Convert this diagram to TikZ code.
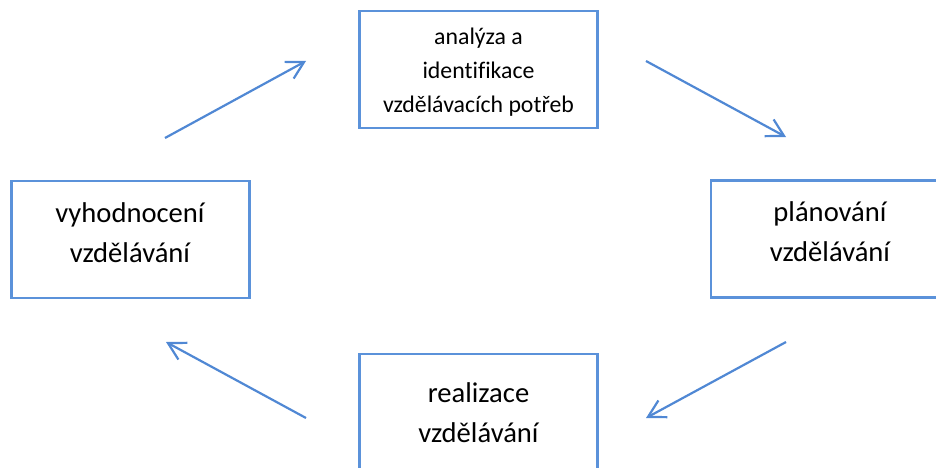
\documentclass[tikz,border=0pt]{standalone}
\usepackage{fontspec}
\setmainfont{Carlito}[Ligatures=NoCommon]
\usetikzlibrary{arrows.meta}
\definecolor{boxblue}{RGB}{91,146,218}
\definecolor{arrblue}{RGB}{80,136,212}
\tikzset{
  box/.style={draw=boxblue, line width=2.2pt, minimum width=238pt, minimum height=117pt, inner sep=0pt},
  bigtxt/.style={align=center, font=\fontsize{28.6}{40}\selectfont, inner sep=0pt},
  smalltxt/.style={align=center, font=\fontsize{23.8}{34}\selectfont, inner sep=0pt},
  flow/.style={draw=arrblue, line width=2.2pt, -{Straight Barb[length=17pt,width=19pt]}}
}
\begin{document}
\begin{tikzpicture}[x=1pt,y=-1pt]
\useasboundingbox (0,0) rectangle (936,468);
\clip (0,0) rectangle (936,468);
% boxes
\node[box] (top) at (478.5,69.5) {};
\node[box] (left) at (130.5,239.5) {};
\node[box] (right) at (830,239) {};
\node[box] (bottom) at (478.5,412.5) {};
% texts (anchor base = baseline of the last line)
\node[smalltxt, anchor=base] (toptxt) at (478.5,113) {analýza a\\identifikace\\vzdělávacích potřeb};
\node[bigtxt, anchor=base] (lefttxt) at (130,262) {vyhodnocení\\vzdělávání};
\node[bigtxt, anchor=base] (righttxt) at (830,261) {plánování\\vzdělávání};
\node[bigtxt, anchor=base] (bottomtxt) at (478.5,442) {realizace\\vzdělávání};
% arrow end points
\coordinate (a1s) at (165,138);
\coordinate (a1e) at (306,61);
\coordinate (a2s) at (646,61);
\coordinate (a2e) at (786,137);
\coordinate (a3s) at (786,342);
\coordinate (a3e) at (646,418);
\coordinate (a4s) at (306,418);
\coordinate (a4e) at (166,342);
\draw[flow] (a1s) -- (a1e);
\draw[flow] (a2s) -- (a2e);
\draw[flow] (a3s) -- (a3e);
\draw[flow] (a4s) -- (a4e);
\end{tikzpicture}
\end{document}
